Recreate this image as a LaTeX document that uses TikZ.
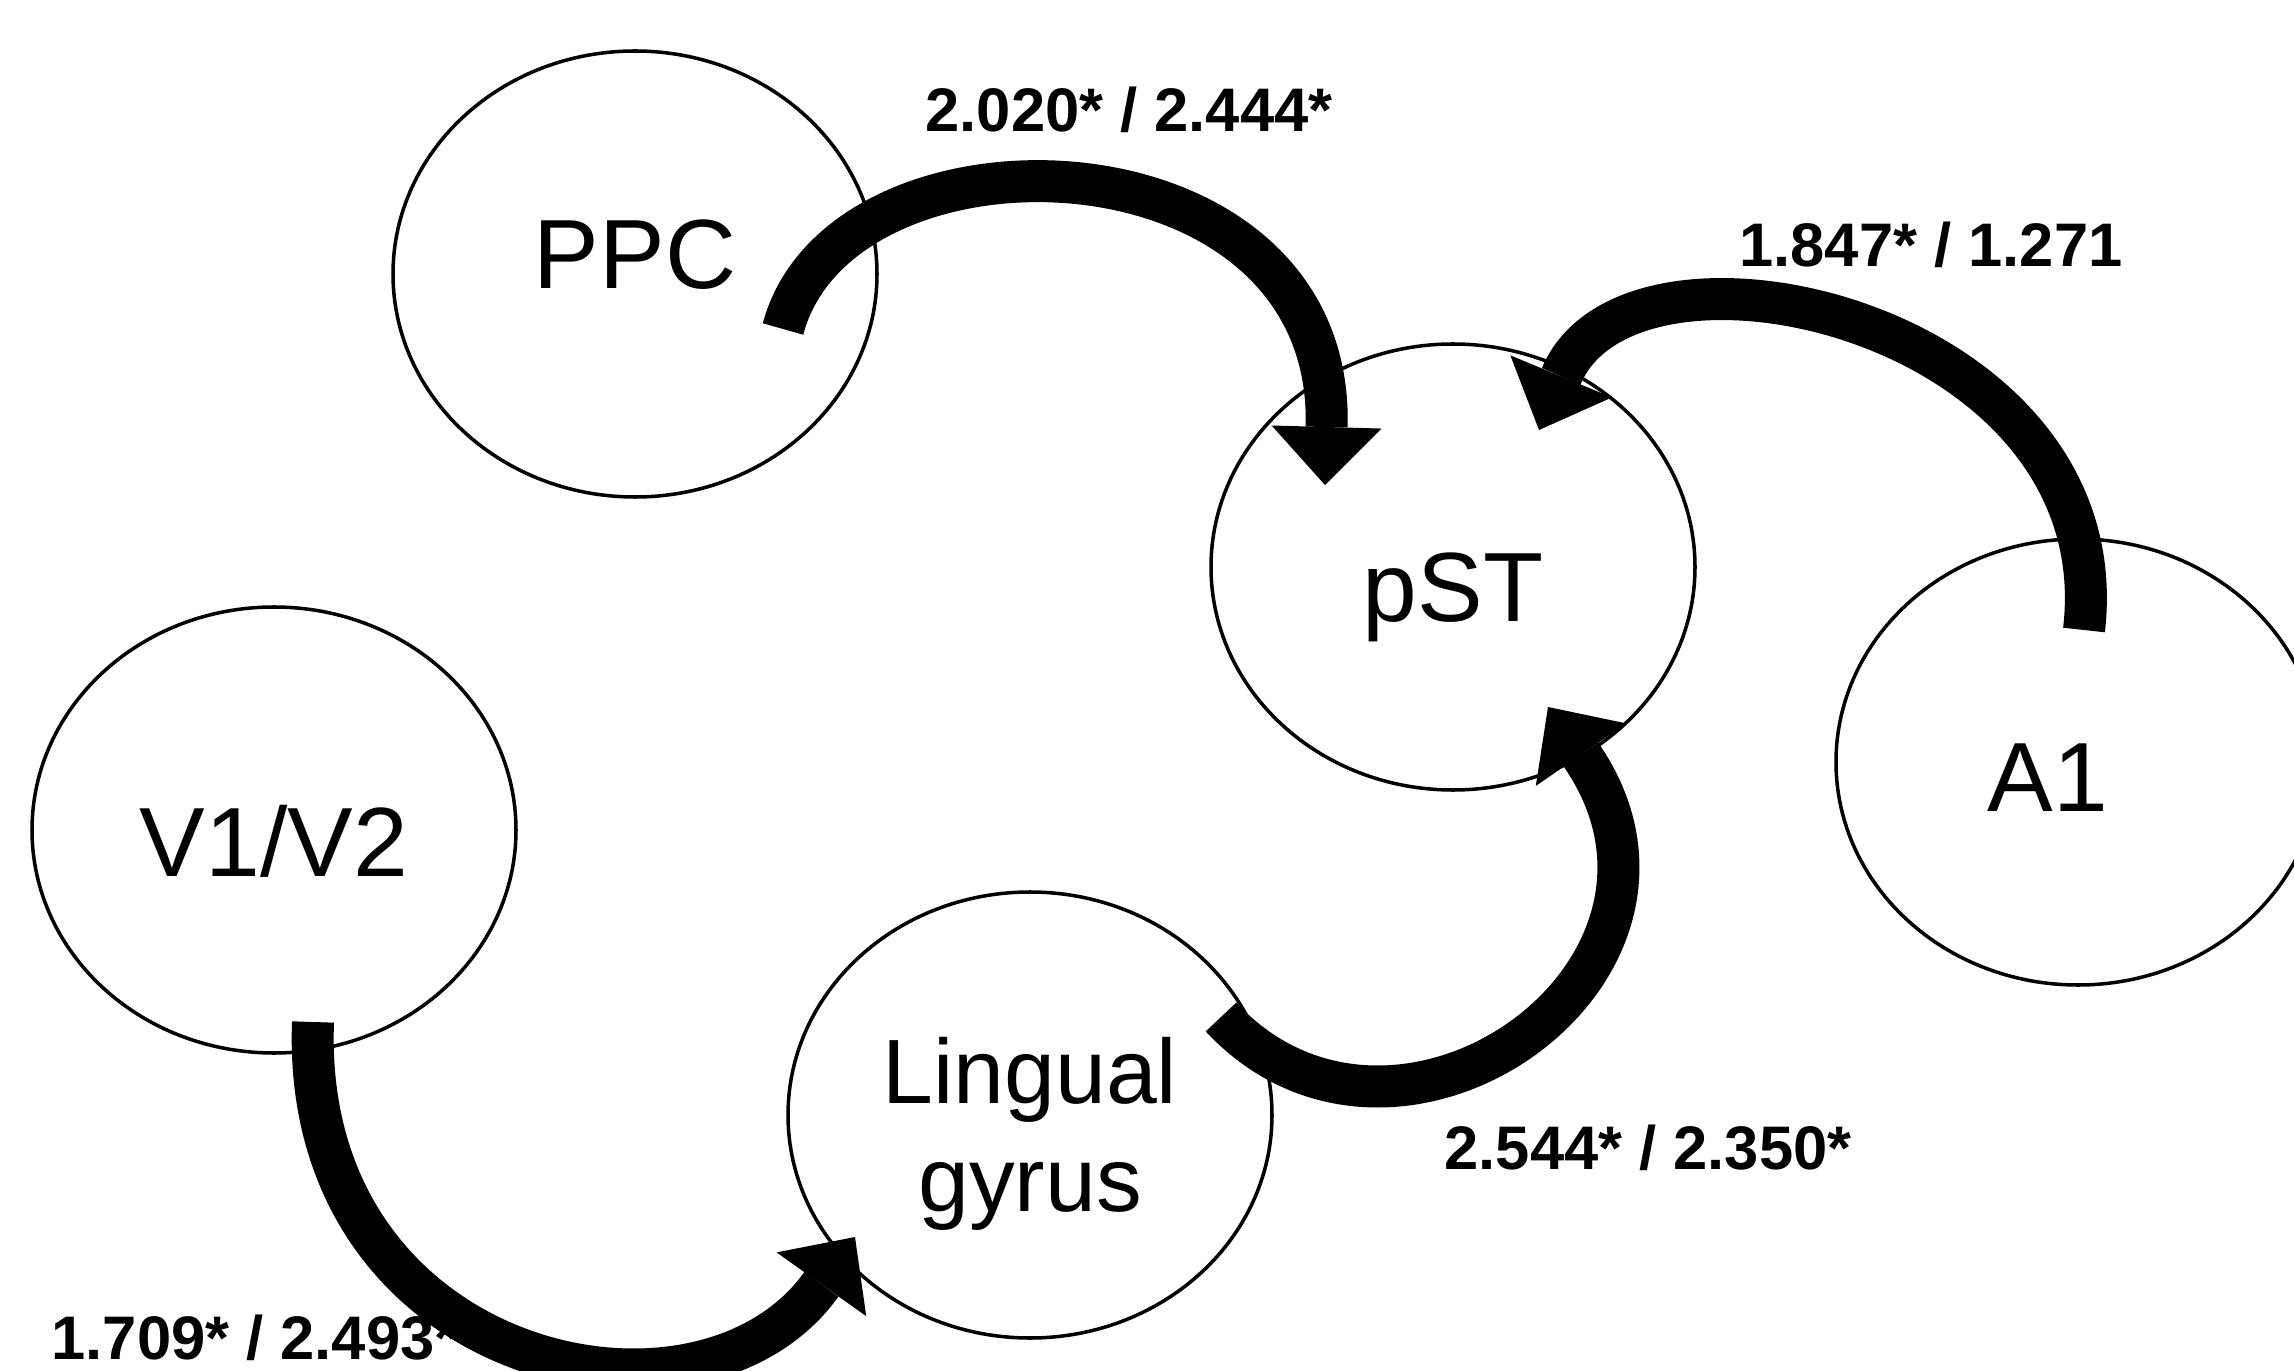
\documentclass[tikz,border=0pt]{standalone}
\usepackage{fontspec}
\setmainfont{Liberation Sans}
\usetikzlibrary{shapes.geometric, arrows.meta, positioning, calc}

\begin{document}
\begin{tikzpicture}[on grid,
    region/.style={draw, ellipse, line width=1pt, minimum width=4.84cm, minimum height=4.46cm, inner sep=0pt, align=center, text height=1cm, text depth=0cm, font=\fontsize{28}{31}\selectfont},
    flow/.style={line width=0.42cm, -{Triangle[length=0.58cm, width=1.1cm, line width=0pt]}},
    weight/.style={font=\fontsize{17.5}{21}\selectfont\bfseries}]
    \useasboundingbox (0,0) rectangle (22.94,13.70);

    % Nodes
    \node (ppc) [region, text height=0.5cm, text depth=0.21cm] at (6.35,10.96) {PPC};
    \node (pst) [region, text height=1.09cm, below right=2.93cm and 8.18cm of ppc] {pST};
    \node (v1v2) [region, text height=0.93cm, below left=5.56cm and 3.61cm of ppc] {V1/V2};
    \node (a1) [region, text height=0.98cm, below right=1.95cm and 6.25cm of pst] {A1\hspace{0.6cm}};
    \node (lg) [region, text height=, text depth=, below left=5.48cm and 4.23cm of pst, font=\fontsize{26}{31}\selectfont] {\rule{0pt}{1.04cm}Lingual\\gyrus};

    % Ends of the arrows
    \coordinate (ppc out) at ($(ppc)+(1.48,-0.55)$);
    \coordinate (pst in1) at ($(pst)+(-1.28,0.82)$);
    \coordinate (a1 out) at ($(a1)+(0.06,1.32)$);
    \coordinate (pst in2) at ($(pst)+(0.86,1.37)$);
    \coordinate (lg out) at ($(lg)+(1.91,0.98)$);
    \coordinate (pst in3) at ($(pst)+(0.95,-1.40)$);
    \coordinate (v1v2 out) at ($(v1v2)+(0.39,-1.92)$);
    \coordinate (lg in) at ($(lg)+(-1.75,-1.22)$);

    % Path
    \draw [flow] (ppc out) .. controls +(0.58,2.17) and +(0.1,3.6) .. (pst in1);
    \draw [flow] (a1 out) .. controls +(0.36,3.1) and +(0.91,2.2) .. (pst in2);
    \draw [flow] (lg out) .. controls +(1.77,-1.9) and +(1.82,-2.63) .. (pst in3);
    \draw [flow] (v1v2 out) .. controls +(-0.13,-3.48) and +(-1.55,-2.18) .. (lg in);

    % Weights
    \node (w1) [weight] at (11.29,12.60) {2.020* / 2.444*};
    \node (w2) [weight] at (19.31,11.25) {1.847* / 1.271};
    \node (w3) [weight] at (16.48,2.22) {2.544* / 2.350*};
    \node (w4) [weight] at (2.55,0.32) {1.709* / 2.493*};
\end{tikzpicture}
\end{document}
